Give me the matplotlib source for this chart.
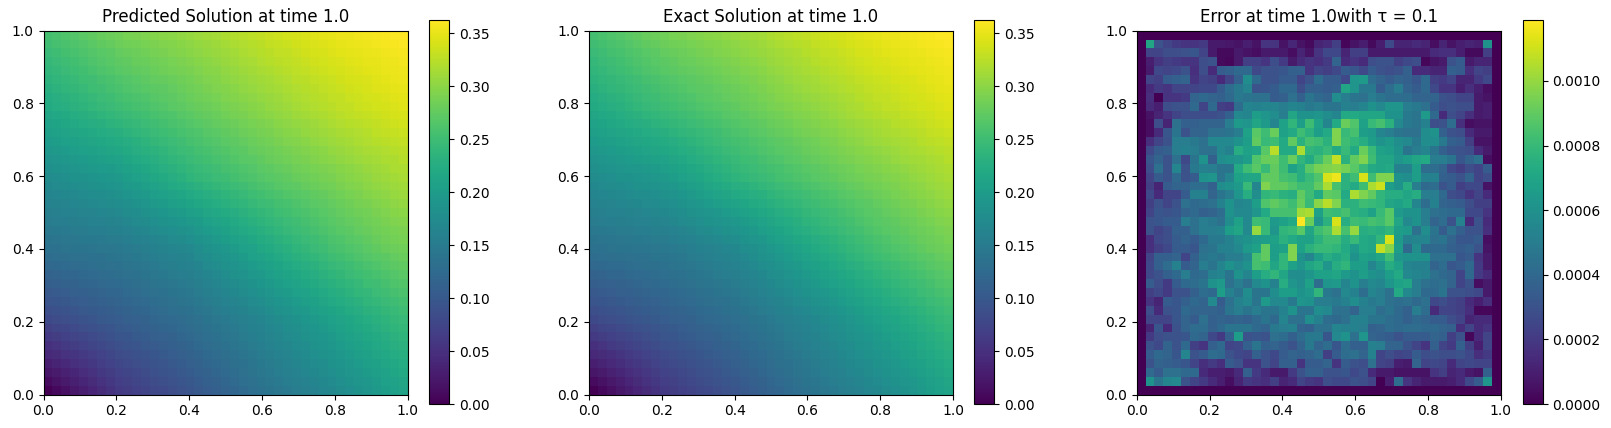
import numpy as np
import matplotlib.pyplot as plt

W, H = 1611, 428

# exact solution, thousandths, bottom row first
exact_rows = [
[0,8,15,23,30,38,45,53,60,64,69,73,78,82,86,91,95,100,105,110,115,120,125,130,135,139,144,148,153,157,161,166,170,175,180,185,190,195,200,205,210],
[10,17,24,31,38,45,52,59,66,70,74,78,83,87,91,95,99,104,109,114,119,124,129,134,139,143,148,152,157,161,165,170,174,179,184,189,194,199,204,209,214],
[20,26,33,39,46,52,58,65,71,75,79,83,88,92,96,100,104,109,114,119,124,128,133,138,143,148,152,157,161,166,170,175,179,184,189,194,199,204,209,214,219],
[30,36,42,48,54,59,65,71,77,81,85,89,93,96,100,104,108,113,118,122,127,132,137,141,146,151,155,160,165,169,174,178,183,188,193,198,203,208,213,218,223],
[40,45,51,56,61,66,72,77,82,86,90,93,97,101,105,108,112,117,122,126,131,136,141,145,150,155,160,164,169,174,179,183,188,193,198,203,208,213,218,223,228],
[50,55,60,64,69,74,79,83,88,92,95,99,103,106,110,113,117,122,126,131,136,140,145,149,154,159,164,168,173,178,183,187,192,197,202,207,212,217,222,227,232],
[60,64,69,73,77,81,86,90,94,97,101,104,108,111,114,118,121,126,130,135,140,144,149,153,158,163,168,172,177,182,187,191,196,201,206,211,216,221,226,231,236],
[70,74,77,81,85,88,92,95,99,102,106,109,113,116,119,123,126,130,135,139,144,148,152,157,161,166,171,176,181,186,191,196,201,206,211,216,221,226,231,236,241],
[80,83,86,89,93,96,99,102,105,108,111,114,118,121,124,127,130,134,139,143,148,152,156,161,165,170,175,180,185,190,195,200,205,210,215,220,225,230,235,240,245],
[87,90,93,96,99,101,104,107,110,113,116,119,123,126,129,132,135,140,144,149,153,158,162,167,171,176,181,186,191,196,201,206,211,216,221,226,231,235,240,245,250],
[94,97,99,102,105,107,110,112,115,118,121,124,128,131,134,137,140,145,149,154,159,163,168,172,177,182,187,192,198,203,208,213,218,223,227,232,237,241,246,250,255],
[100,103,105,108,110,113,115,118,120,123,126,129,133,136,139,142,145,150,155,160,165,169,174,179,184,189,194,199,204,209,214,219,224,229,233,238,242,247,251,256,260],
[107,109,112,114,116,118,121,123,125,128,131,134,138,141,144,147,150,155,160,165,170,175,180,185,190,195,200,205,210,215,220,225,230,234,239,243,248,252,256,261,265],
[114,116,118,120,122,124,126,128,130,133,136,139,143,146,149,152,155,160,165,170,176,181,186,191,196,201,206,211,216,221,226,231,236,240,245,249,253,257,262,266,270],
[121,123,125,126,128,130,132,133,135,138,141,144,148,151,154,157,160,165,171,176,181,186,192,197,202,207,212,217,222,227,232,237,242,246,250,254,259,263,267,271,275],
[128,130,131,133,134,136,137,139,140,143,146,149,153,156,159,162,165,171,176,182,187,193,198,204,209,214,219,224,229,234,239,244,249,253,257,261,265,268,272,276,280],
[135,136,138,139,140,141,143,144,145,148,151,154,158,161,164,167,170,176,181,187,193,198,204,209,215,220,225,230,235,240,245,250,255,259,263,266,270,274,278,281,285],
[140,141,143,144,146,147,148,150,151,154,158,161,165,168,171,175,178,183,189,194,200,205,210,216,221,226,231,235,240,245,250,254,259,263,267,270,274,278,282,285,289],
[145,147,148,150,151,153,154,156,157,161,164,168,172,175,179,182,186,191,197,202,207,212,218,223,228,233,237,242,246,251,255,260,264,268,271,275,278,282,285,289,292],
[150,152,154,155,157,159,161,162,164,168,172,175,179,183,187,190,194,199,204,209,214,219,224,229,234,238,243,247,251,255,260,264,268,272,275,279,282,286,289,293,296],
[155,157,159,161,163,164,166,168,170,174,178,182,186,190,194,198,202,207,212,216,221,226,231,235,240,244,248,252,256,260,264,268,272,276,279,283,286,290,293,297,300],
[160,162,164,166,168,170,172,174,176,180,185,189,194,198,202,207,211,215,220,224,229,233,237,242,246,250,254,257,261,265,269,272,276,280,283,287,290,294,297,301,304],
[165,167,169,171,174,176,178,180,182,187,191,196,201,205,210,214,219,223,227,231,236,240,244,248,252,256,259,263,267,270,274,277,281,284,288,291,295,298,301,305,308],
[170,172,175,177,180,182,184,187,189,194,199,203,208,213,218,222,227,231,235,239,243,247,251,255,259,262,266,269,273,276,279,283,286,289,292,295,299,302,305,308,311],
[175,178,180,183,185,188,190,193,195,200,205,210,215,220,225,230,235,239,243,246,250,254,258,261,265,268,271,274,278,281,284,287,290,293,296,299,303,306,309,312,315],
[181,184,186,189,192,194,197,199,202,207,212,216,221,226,231,235,240,244,247,251,255,258,262,265,269,272,275,278,282,285,288,291,294,297,300,303,307,310,313,316,319],
[186,189,192,195,198,200,203,206,209,214,218,223,227,232,236,241,245,249,252,256,260,263,267,270,274,277,280,283,287,290,293,296,299,302,305,308,311,313,316,319,322],
[192,195,198,201,204,207,210,213,216,220,225,229,233,237,242,246,250,254,257,261,264,268,271,275,278,281,284,287,291,294,297,300,303,306,309,312,315,317,320,323,326],
[198,201,204,207,210,213,216,219,222,226,230,234,239,243,247,251,255,258,262,265,269,272,275,279,282,285,289,292,295,298,302,305,308,311,314,316,319,322,325,327,330],
[203,206,210,213,216,219,223,226,229,233,237,241,245,248,252,256,260,263,267,270,274,277,280,284,287,290,293,296,300,303,306,309,312,315,318,320,323,326,329,331,334],
[209,212,216,219,223,226,229,233,236,240,243,247,251,254,258,261,265,268,272,275,278,281,285,288,291,294,297,300,304,307,310,313,316,319,322,324,327,330,333,335,338],
[214,218,221,225,229,232,236,239,243,246,250,253,257,260,263,267,270,273,277,280,283,286,290,293,296,299,302,305,309,312,315,318,321,324,326,329,331,334,336,339,341],
[220,224,228,231,235,239,243,246,250,253,256,259,263,266,269,272,275,278,281,284,288,291,294,297,300,303,306,309,313,316,319,322,325,328,330,333,335,338,340,343,345],
[224,228,232,235,239,243,247,250,254,257,260,263,267,270,273,276,279,282,285,288,292,295,298,301,304,307,310,313,316,319,322,325,328,330,333,335,338,340,342,345,347],
[229,233,237,240,244,248,252,255,259,262,265,268,271,273,276,279,282,285,289,292,295,298,302,305,308,311,314,317,320,322,325,328,331,333,336,338,341,343,345,348,350],
[233,237,241,244,248,252,256,259,263,266,269,272,275,277,280,283,286,289,292,295,299,302,305,308,311,314,317,320,323,325,328,331,334,336,339,341,343,345,348,350,352],
[238,242,246,249,253,257,261,264,268,271,274,276,279,282,285,287,290,293,296,299,303,306,309,312,315,318,321,324,327,329,332,335,338,340,342,344,346,348,350,352,354],
[242,246,250,253,257,261,265,268,272,275,278,280,283,286,289,291,294,297,300,303,307,310,313,316,319,322,325,327,330,333,336,338,341,343,345,347,349,350,352,354,356],
[246,250,254,257,261,265,269,272,276,279,282,284,287,290,293,295,298,301,304,307,310,313,316,319,322,325,328,330,333,336,339,341,344,346,348,349,351,353,355,356,358],
[251,255,259,262,266,270,274,277,281,284,286,289,291,294,296,299,301,304,307,310,314,317,320,323,326,329,331,334,337,339,342,344,347,349,351,352,354,356,358,359,361],
[255,259,263,266,270,274,278,281,285,288,290,293,295,298,300,303,305,308,311,314,318,321,324,327,330,333,335,338,340,343,345,348,350,352,353,355,356,358,360,361,363],
]

# error, units of 1e-5, top row first, inner cells only (the border is 0)
error_rows = [
[70,30,24,20,18,18,20,8,8,7,6,10,6,18,18,6,13,6,3,12,14,22,2,6,9,3,9,26,12,12,14,12,4,12,6,10,12,10,60],
[24,24,28,28,30,32,24,8,3,3,8,6,4,8,8,8,4,12,6,18,26,26,12,22,22,8,8,8,8,8,8,8,14,16,16,10,3,3,22],
[10,18,22,20,18,18,28,30,3,2,8,22,22,18,28,20,8,14,18,16,20,38,14,18,14,28,30,30,22,26,28,2,6,8,30,34,8,12,12],
[8,26,24,26,30,16,28,14,34,36,40,40,26,30,30,32,36,36,18,24,22,26,34,32,26,34,30,28,30,36,14,14,12,12,36,34,16,24,22],
[24,22,34,36,38,18,24,22,14,24,36,58,40,30,30,34,34,24,30,42,34,34,26,62,64,42,38,34,38,36,32,40,22,20,24,12,12,20,26],
[14,20,18,24,24,24,26,26,34,42,48,54,30,32,34,40,40,28,36,36,34,36,70,62,48,48,34,42,50,38,34,40,26,18,18,10,16,10,4],
[16,0,18,18,20,38,40,38,36,40,48,46,44,44,34,36,44,36,46,40,38,58,50,46,44,50,46,42,42,42,38,38,38,30,28,24,24,8,6],
[14,10,28,30,30,40,24,40,22,20,42,54,52,54,54,50,54,52,48,50,46,46,52,50,54,60,56,62,62,50,48,44,34,28,30,28,28,8,10],
[6,12,18,24,28,28,28,28,30,36,56,54,66,62,58,50,70,60,60,62,58,54,72,72,70,70,70,60,60,48,46,64,40,14,28,24,16,8,10],
[4,28,12,44,36,36,38,38,38,50,64,62,70,64,54,68,78,66,82,68,54,72,92,86,68,80,84,76,56,48,46,52,28,30,42,16,4,6,6],
[4,14,32,46,30,38,38,44,44,46,50,68,88,82,92,68,72,82,76,66,72,96,80,84,66,64,54,50,46,44,44,58,60,36,30,28,14,8,8],
[16,24,30,50,50,48,44,56,56,56,60,66,90,80,82,72,90,76,84,82,76,96,82,78,74,66,60,64,58,56,48,58,58,48,36,34,22,6,6],
[26,34,36,50,52,50,44,44,56,52,74,68,70,88,106,72,72,104,78,76,80,72,80,72,92,80,68,66,60,46,50,54,46,36,32,30,28,14,8],
[32,38,30,44,26,46,60,36,58,60,62,66,86,92,92,82,92,78,72,82,92,108,76,90,96,82,70,70,62,66,70,72,50,50,46,32,38,44,4],
[28,44,30,54,30,48,52,50,46,46,72,82,88,80,90,82,68,74,88,94,96,98,94,88,80,72,70,72,52,52,66,42,42,38,26,22,28,24,34],
[24,34,30,40,30,34,60,62,46,54,68,70,70,90,90,84,82,74,80,86,112,116,76,82,112,82,96,96,60,58,66,52,52,36,34,30,38,24,28],
[22,12,34,38,38,42,42,36,58,60,64,80,54,96,90,90,86,82,82,90,104,84,76,72,82,104,110,66,60,74,50,40,42,30,34,22,26,26,6],
[26,14,24,24,34,52,52,38,46,50,62,74,58,78,80,76,74,90,82,72,90,88,72,104,96,90,78,74,74,70,74,50,50,40,28,26,18,24,14],
[22,30,24,30,44,40,42,44,52,60,54,56,66,86,90,86,82,92,80,98,106,96,76,76,82,80,78,70,68,72,54,42,52,38,36,34,28,22,22],
[24,32,30,32,38,40,36,38,42,60,56,56,62,72,84,84,84,102,104,68,82,80,84,76,74,68,80,88,64,60,60,50,44,42,40,40,26,26,18],
[30,32,34,34,50,44,50,48,44,58,68,56,82,80,64,68,72,119,92,62,76,112,74,82,80,84,82,88,70,56,60,50,38,42,30,52,14,30,14],
[30,24,28,36,36,44,50,50,52,66,70,56,100,80,62,78,80,88,70,82,86,104,84,100,74,76,74,78,66,64,44,58,46,34,44,36,30,30,16],
[16,26,28,34,38,34,40,48,48,52,58,60,64,66,68,76,72,68,68,76,82,82,74,80,72,70,78,112,64,52,54,54,44,46,38,32,32,34,4],
[16,22,26,34,34,32,44,46,52,52,56,64,68,90,66,68,96,68,76,80,80,78,72,64,72,70,108,98,66,40,58,40,40,40,36,34,36,30,6],
[24,36,36,38,24,36,46,48,46,50,50,56,84,90,66,78,96,60,54,66,74,70,74,60,68,66,70,82,62,60,60,60,44,44,44,32,34,18,8],
[26,36,42,52,34,38,50,46,54,60,56,60,84,82,70,78,68,62,70,74,62,74,78,66,66,54,62,74,68,54,52,52,38,42,32,34,40,20,8],
[26,30,36,40,50,40,42,52,54,46,60,54,66,74,78,70,58,58,62,68,68,70,64,60,66,60,58,66,72,56,54,52,44,40,38,24,40,20,14],
[34,28,20,34,40,42,46,60,64,44,50,44,56,60,52,74,62,58,68,42,62,64,54,60,50,56,54,62,68,70,50,44,42,44,38,24,30,4,8],
[22,26,20,30,30,36,42,40,66,52,46,58,46,46,58,66,66,60,64,78,48,44,56,52,42,54,50,44,72,56,50,40,40,46,30,30,28,26,8],
[18,12,34,32,36,40,38,56,34,44,52,56,46,64,56,56,48,62,60,50,50,48,52,58,52,48,50,44,42,44,40,44,26,28,24,22,14,10,16],
[28,14,30,32,40,38,38,38,36,46,50,46,50,46,46,52,60,46,46,58,56,44,44,38,50,50,42,46,40,36,50,42,14,24,24,22,16,2,2],
[24,24,24,32,38,34,44,36,38,36,38,36,40,46,40,54,44,44,58,52,42,40,44,52,52,46,46,42,40,36,40,38,34,34,28,24,12,14,14],
[12,32,14,30,38,42,42,36,40,46,46,46,40,38,48,50,52,38,36,44,44,54,52,52,50,36,38,42,40,42,42,40,40,38,36,16,24,14,18],
[20,28,30,30,32,40,38,26,20,36,66,30,32,30,44,42,36,42,48,48,32,56,60,44,62,38,36,34,30,34,34,34,38,36,22,30,2,14,24],
[30,26,38,30,40,22,18,36,40,24,26,36,46,36,38,34,30,38,48,38,42,32,42,36,36,52,50,38,38,30,24,18,36,24,20,36,22,10,24],
[34,40,38,32,54,30,34,42,40,30,26,24,36,30,26,34,38,36,38,42,22,34,42,44,38,52,24,28,24,26,34,28,30,28,28,30,26,16,20],
[30,38,36,34,32,24,16,20,16,34,30,18,18,30,24,36,36,18,34,34,38,18,34,30,28,44,24,22,10,8,38,24,26,24,14,24,26,24,24],
[40,34,44,44,40,40,14,10,10,8,14,36,20,14,8,8,20,30,36,36,30,30,32,26,30,14,8,8,6,6,6,6,18,22,12,14,8,6,36],
[60,46,54,56,30,24,20,14,10,4,12,20,18,16,22,12,14,24,20,18,28,26,26,30,28,24,0,10,42,18,12,8,8,8,10,14,26,34,62],
]

titles = ['Predicted Solution at time 1.0', 'Exact Solution at time 1.0', 'Error at time 1.0with τ = 0.1']
ax_left = [43.5, 589, 1136.7]
cbar_left = [429.3, 974.5, 1522.5]

exact = np.array(exact_rows) / 1000.0
err = np.zeros((41, 41))
err[1:40, 1:40] = np.array(error_rows)[::-1] * 1e-5
pred = exact + err

edges = np.linspace(0, 1, 42)

fig = plt.figure(figsize=(W / 100, H / 100), dpi=100)

for k, field in enumerate([pred, exact, err]):
    ax = fig.add_axes([ax_left[k] / W, 1 - 394.5 / H, 364 / W, 363.8 / H])
    im = ax.pcolormesh(edges, edges, field, cmap='viridis', vmin=0, vmax=field.max())
    ax.set_xticks(np.arange(0, 1.01, 0.2))
    ax.set_yticks(np.arange(0, 1.01, 0.2))
    ax.set_title(titles[k], fontsize=12)
    cax = fig.add_axes([cbar_left[k] / W, 1 - 404 / H, 20 / W, 384.5 / H])
    fig.colorbar(im, cax=cax)

plt.savefig('out.png', dpi=100)
